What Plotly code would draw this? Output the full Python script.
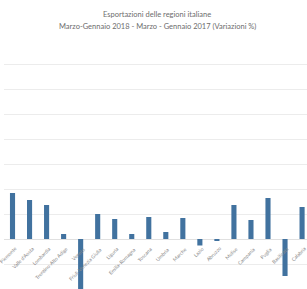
import plotly.graph_objects as go

regions = ["Piemonte", "Valle d'Aosta", "Lombardia", "Trentino-Alto Adige", "Veneto",
           "Friuli-Venezia Giulia", "Liguria", "Emilia-Romagna", "Toscana", "Umbria",
           "Marche", "Lazio", "Abruzzo", "Molise", "Campania", "Puglia", "Basilicata", "Calabria"]
variazioni = [9.2, 7.8, 6.8, 1.0, -11.0, 5.0, 4.0, 1.0, 4.4, 1.4,
              4.2, -1.3, -0.4, 6.8, 3.8, 8.2, -7.4, 6.4]

title_line1 = "Esportazioni delle regioni italiane"
title_line2 = "Marzo-Gennaio 2018 - Marzo - Gennaio 2017 (Variazioni %)"

fig = go.Figure()
fig.add_trace(go.Bar(x=regions, y=variazioni, marker=dict(color="#41729f", line=dict(width=0)),
                     width=0.3))

for r in regions:
    fig.add_annotation(x=r, y=0, xref="x", yref="y", text=r, showarrow=False,
                       textangle=-45, xanchor="right", yanchor="top",
                       xshift=8, yshift=-4,
                       font=dict(family="Lato", size=5, color="#8a8a8a"))

fig.add_annotation(x=0.505, y=1.096, xref="paper", yref="paper", text=title_line1,
                   showarrow=False, xanchor="center", yanchor="middle",
                   font=dict(family="Lato", size=7.5, color="#6d6d6d"))
fig.add_annotation(x=0.505, y=1.048, xref="paper", yref="paper", text=title_line2,
                   showarrow=False, xanchor="center", yanchor="middle",
                   font=dict(family="Lato", size=7.5, color="#6d6d6d"))

fig.update_layout(
    width=307, height=289,
    margin=dict(l=4, r=0, t=39, b=0),
    paper_bgcolor="white", plot_bgcolor="white",
    showlegend=False,
    xaxis=dict(range=[-0.5, 17.29], showticklabels=False, showgrid=False,
               showline=False, ticks="", zeroline=False),
    yaxis=dict(range=[-10, 40], dtick=5, showticklabels=False, showgrid=True,
               gridcolor="#ececec", gridwidth=1, zeroline=True, zerolinecolor="#e0e0e0",
               zerolinewidth=1, showline=False, ticks=""),
)

fig.write_html("out.html", config={"displayModeBar": False, "staticPlot": True},
               post_script="document.body.style.margin='0';document.body.style.overflow='hidden';")
